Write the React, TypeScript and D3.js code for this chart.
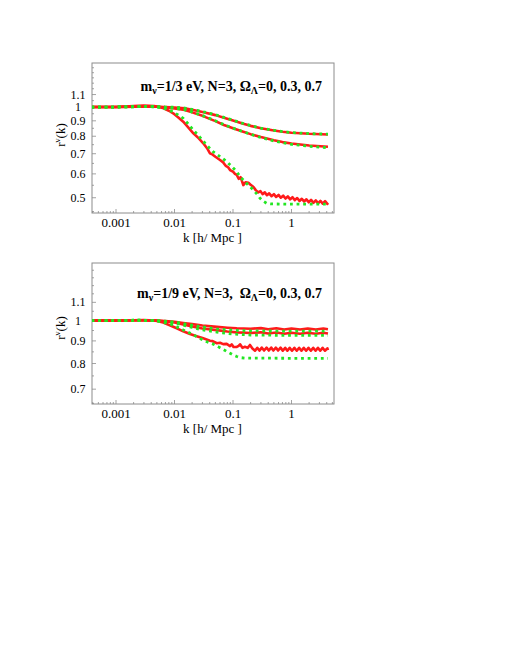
import React from "react";
import * as d3 from "d3";

type Pt = [number, number];

// ---------- Panel 1 (m_nu = 1/3 eV) ----------
const p1RedA: Pt[] = [[0.00038,1.0],[0.001,1.0],[0.002,1.003],[0.003,1.004],[0.005,1.002],[0.007,1.0],[0.01,0.997],[0.015,0.99],[0.02,0.98],[0.03,0.963],[0.05,0.94],[0.07,0.921],[0.1,0.902],[0.15,0.88],[0.2,0.866],[0.3,0.85],[0.5,0.836],[0.7,0.828],[1,0.822],[2,0.815],[4.2,0.811]];
const p1GreenA: Pt[] = [[0.00038,1.0],[0.001,1.0],[0.002,1.002],[0.003,1.003],[0.005,1.002],[0.007,1.0],[0.01,0.998],[0.015,0.992],[0.02,0.982],[0.03,0.966],[0.05,0.943],[0.07,0.924],[0.1,0.904],[0.15,0.882],[0.2,0.868],[0.3,0.851],[0.5,0.837],[0.7,0.829],[1,0.823],[2,0.816],[4.2,0.813]];
const p1RedB: Pt[] = [[0.00038,1.0],[0.001,1.0],[0.002,1.003],[0.003,1.004],[0.005,1.002],[0.007,0.997],[0.01,0.99],[0.015,0.978],[0.02,0.96],[0.03,0.935],[0.05,0.898],[0.07,0.872],[0.1,0.85],[0.15,0.828],[0.2,0.813],[0.3,0.795],[0.5,0.776],[0.7,0.765],[1,0.757],[2,0.745],[4.2,0.738]];
const p1GreenB: Pt[] = [[0.00038,1.0],[0.001,1.0],[0.002,1.002],[0.003,1.003],[0.005,1.002],[0.007,0.998],[0.01,0.991],[0.015,0.979],[0.02,0.962],[0.03,0.937],[0.05,0.9],[0.07,0.874],[0.1,0.851],[0.15,0.828],[0.2,0.812],[0.3,0.792],[0.5,0.772],[0.7,0.761],[1,0.752],[2,0.741],[4.2,0.733]];
const p1RedC: Pt[] = [[0.00038,1.0],[0.001,1.0],[0.002,1.008],[0.003,1.012],[0.0045,1.008],[0.0055,1.0],[0.0065,0.99],[0.008,0.972],[0.0095,0.953],[0.0115,0.925],[0.0141,0.894],[0.017,0.858],[0.021,0.818],[0.026,0.787],[0.031,0.758],[0.036,0.73],[0.0404,0.702],[0.045,0.695],[0.05,0.684],[0.06,0.667],[0.068,0.655],[0.075,0.638],[0.082,0.632],[0.089,0.618],[0.1,0.61],[0.108,0.6],[0.116,0.595],[0.125,0.578],[0.135,0.585],[0.15,0.551],[0.165,0.563],[0.183,0.561],[0.2,0.552],[0.222,0.544],[0.245,0.53],[0.27,0.521],[0.295,0.526],[0.32,0.514],[0.35,0.521],[0.38,0.51],[0.415,0.517],[0.455,0.506],[0.5,0.514],[0.545,0.503],[0.6,0.511],[0.655,0.5],[0.72,0.508],[0.79,0.497],[0.865,0.505],[0.95,0.494],[1.04,0.502],[1.14,0.491],[1.25,0.499],[1.37,0.488],[1.5,0.496],[1.64,0.486],[1.8,0.494],[1.97,0.483],[2.16,0.492],[2.37,0.481],[2.6,0.49],[2.85,0.479],[3.12,0.488],[3.42,0.478],[3.75,0.487],[4.1,0.477],[4.2,0.481]];
const p1GreenC: Pt[] = [[0.00038,1.0],[0.001,1.0],[0.002,1.003],[0.003,1.005],[0.0045,1.004],[0.0055,0.998],[0.0065,0.99],[0.008,0.978],[0.0095,0.962],[0.0115,0.942],[0.0141,0.917],[0.017,0.88],[0.021,0.839],[0.027,0.795],[0.0354,0.748],[0.045,0.712],[0.06,0.685],[0.078,0.659],[0.095,0.635],[0.116,0.61],[0.132,0.587],[0.15,0.573],[0.171,0.558],[0.195,0.545],[0.222,0.531],[0.255,0.515],[0.29,0.498],[0.33,0.487],[0.377,0.479],[0.45,0.477],[1,0.476],[4.2,0.476]];

// ---------- Panel 2 (m_nu = 1/9 eV) ----------
const p2RedA: Pt[] = [[0.00038,1.0],[0.001,1.0],[0.002,1.002],[0.003,1.002],[0.005,1.0],[0.007,0.998],[0.01,0.994],[0.0141,0.988],[0.02,0.982],[0.03,0.975],[0.053,0.968],[0.08,0.964],[0.116,0.961],[0.2,0.959],[0.3,0.962],[0.4,0.956],[0.55,0.961],[0.75,0.955],[1,0.96],[1.4,0.955],[1.9,0.96],[2.6,0.955],[3.5,0.96],[4.2,0.956]];
const p2GreenA: Pt[] = [[0.00038,1.0],[0.001,1.0],[0.002,1.002],[0.003,1.002],[0.005,1.0],[0.007,0.997],[0.01,0.993],[0.0141,0.985],[0.02,0.977],[0.03,0.968],[0.053,0.958],[0.1,0.951],[0.2,0.948],[1,0.947],[4.2,0.947]];
const p2RedB: Pt[] = [[0.00038,1.0],[0.001,1.0],[0.002,1.002],[0.003,1.002],[0.005,1.0],[0.007,0.996],[0.01,0.99],[0.0141,0.98],[0.02,0.97],[0.03,0.96],[0.053,0.952],[0.08,0.945],[0.116,0.941],[0.2,0.938],[0.3,0.941],[0.4,0.935],[0.55,0.94],[0.75,0.934],[1,0.939],[1.4,0.934],[1.9,0.939],[2.6,0.934],[3.5,0.939],[4.2,0.935]];
const p2GreenB: Pt[] = [[0.00038,1.0],[0.001,1.0],[0.002,1.002],[0.003,1.002],[0.005,1.0],[0.007,0.995],[0.01,0.988],[0.0141,0.977],[0.02,0.965],[0.03,0.953],[0.053,0.942],[0.1,0.933],[0.2,0.928],[1,0.926],[4.2,0.926]];
const p2RedC: Pt[] = [[0.00038,1.0],[0.001,1.0],[0.002,1.002],[0.003,1.003],[0.0045,1.001],[0.0055,0.996],[0.0064,0.99],[0.0085,0.975],[0.0109,0.961],[0.0141,0.946],[0.0184,0.933],[0.024,0.922],[0.031,0.912],[0.0404,0.901],[0.045,0.899],[0.053,0.889],[0.06,0.891],[0.068,0.885],[0.078,0.886],[0.089,0.876],[0.095,0.884],[0.102,0.872],[0.116,0.872],[0.125,0.877],[0.132,0.884],[0.145,0.868],[0.16,0.873],[0.178,0.868],[0.195,0.881],[0.215,0.865],[0.238,0.855],[0.26,0.868],[0.285,0.856],[0.31,0.869],[0.34,0.856],[0.375,0.869],[0.41,0.856],[0.45,0.869],[0.49,0.856],[0.54,0.869],[0.59,0.856],[0.65,0.869],[0.71,0.855],[0.78,0.868],[0.85,0.855],[0.93,0.868],[1.02,0.855],[1.12,0.868],[1.23,0.855],[1.35,0.868],[1.48,0.855],[1.62,0.868],[1.78,0.855],[1.95,0.868],[2.14,0.855],[2.35,0.868],[2.58,0.855],[2.83,0.868],[3.1,0.855],[3.4,0.868],[3.73,0.855],[4.1,0.866],[4.2,0.858]];
const p2GreenC: Pt[] = [[0.00038,1.0],[0.001,1.0],[0.002,1.001],[0.003,1.002],[0.0045,1.0],[0.006,0.993],[0.0084,0.983],[0.0109,0.968],[0.0141,0.953],[0.02,0.932],[0.027,0.912],[0.035,0.897],[0.045,0.886],[0.053,0.876],[0.065,0.864],[0.078,0.852],[0.089,0.844],[0.1,0.837],[0.116,0.83],[0.132,0.825],[0.16,0.823],[1,0.822],[4.2,0.822]];

const xTicks = [0.001, 0.01, 0.1, 1];
const xTickLabels = ["0.001", "0.01", "0.1", "1"];
const p1YTicks = [0.5, 0.6, 0.7, 0.8, 0.9, 1, 1.1];
const p1YLabels = ["0.5", "0.6", "0.7", "0.8", "0.9", "1", "1.1"];
const p2YTicks = [0.7, 0.8, 0.9, 1, 1.1];
const p2YLabels = ["0.7", "0.8", "0.9", "1", "1.1"];

const RED = "#ff1a1a";
const GREEN = "#22e622";
const FRAME = "#8c8c8c";
const FONT = "'Liberation Serif', 'DejaVu Serif', serif";

interface PanelProps {
  top: number;
  bottom: number;
  yDomain: [number, number];
  yTicks: number[];
  yLabels: string[];
  reds: Pt[][];
  greens: Pt[][];
  title: React.ReactNode;
  titleY: number;
  yLabelY: number;
  xLabelDy: number;
  xTitleDy: number;
}

function Panel(p: PanelProps) {
  const left = 92, right = 334;
  const x = d3.scaleLog().domain([Math.pow(10, (left - 291.5) / 58.5), Math.pow(10, (right - 291.5) / 58.5)]).range([left, right]);
  const y = d3.scaleLog().domain(p.yDomain).range([p.bottom, p.top]);
  const line = d3.line<Pt>().x(d => x(d[0])).y(d => y(d[1]));
  const [x0, x1] = x.domain();
  const minor: number[] = [];
  for (let e = -4; e <= 1; e++) {
    for (let m = 1; m <= 9; m++) {
      const v = m * Math.pow(10, e);
      if (v > x0 && v < x1) minor.push(v);
    }
  }
  const yMinor: number[] = [];
  for (let v = 0.45; v <= 1.4; v += 0.05) {
    const r = Math.round(v * 100) / 100;
    if (r > p.yDomain[0] && r < p.yDomain[1]) yMinor.push(r);
  }
  return (
    <g>
      <defs>
        <clipPath id={`clip${p.top}`}>
          <rect x={left} y={p.top} width={right - left} height={p.bottom - p.top} />
        </clipPath>
      </defs>
      <rect x={left} y={p.top} width={right - left} height={p.bottom - p.top} fill="white" stroke={FRAME} strokeWidth={1} />
      {minor.map((v, i) => {
        const major = xTicks.some(t => Math.abs(t - v) < 1e-9);
        return <line key={"xm" + i} x1={x(v)} x2={x(v)} y1={p.bottom} y2={p.bottom - (major ? 4 : 2)} stroke={FRAME} strokeWidth={0.8} />;
      })}
      {yMinor.map((v, i) => {
        const major = p.yTicks.some(t => Math.abs(t - v) < 1e-9);
        return <line key={"ym" + i} x1={left} x2={left + (major ? 4 : 2)} y1={y(v)} y2={y(v)} stroke={FRAME} strokeWidth={0.8} />;
      })}
      <g clipPath={`url(#clip${p.top})`}>
        {p.reds.map((d, i) => (
          <path key={"r" + i} d={line(d) || ""} fill="none" stroke={RED} strokeWidth={2.6} strokeLinejoin="round" />
        ))}
        {p.greens.map((d, i) => (
          <path key={"g" + i} d={line(d) || ""} fill="none" stroke={GREEN} strokeWidth={2.8} strokeDasharray="2.8 3.8" />
        ))}
      </g>
      {xTicks.map((t, i) => (
        <text key={"xl" + i} x={x(t)} y={p.bottom + p.xLabelDy} textAnchor="middle" fontFamily={FONT} fontSize={13}>{xTickLabels[i]}</text>
      ))}
      {p.yTicks.map((t, i) => (
        <text key={"yl" + i} x={78} y={y(t) + 4} textAnchor="middle" fontFamily={FONT} fontSize={12}>{p.yLabels[i]}</text>
      ))}
      <text x={212.5} y={p.bottom + p.xTitleDy} textAnchor="middle" fontFamily={FONT} fontSize={13}>k [h/ Mpc ]</text>
      <text transform={`translate(65,${p.yLabelY}) rotate(-90)`} textAnchor="middle" fontFamily={FONT} fontSize={13}>
        r<tspan dy={-5} fontSize={9}>ν</tspan><tspan dy={5}>(k)</tspan>
      </text>
      <text x={322} y={p.titleY} textAnchor="end" fontFamily={FONT} fontSize={14} fontWeight="bold">{p.title}</text>
    </g>
  );
}

export default function App() {
  return (
    <svg width={510} height={660} style={{ position: "absolute", left: 0, top: 0, background: "white" }}>
      <rect x={0} y={0} width={510} height={660} fill="white" />
      <Panel
        top={63} bottom={213} yDomain={[0.445, 1.40]}
        yTicks={p1YTicks} yLabels={p1YLabels}
        reds={[p1RedA, p1RedB, p1RedC]} greens={[p1GreenA, p1GreenB, p1GreenC]}
        titleY={91} yLabelY={135} xLabelDy={13.5} xTitleDy={28.5}
        title={<>m<tspan dy={3} fontSize={10}>ν</tspan><tspan dy={-3}>=1/3 eV, N=3, Ω</tspan><tspan dy={3} fontSize={10}>Λ</tspan><tspan dy={-3}>=0, 0.3, 0.7</tspan></>}
      />
      <Panel
        top={263} bottom={404} yDomain={[0.648, 1.35]}
        yTicks={p2YTicks} yLabels={p2YLabels}
        reds={[p2RedA, p2RedB, p2RedC]} greens={[p2GreenA, p2GreenB, p2GreenC]}
        titleY={298} yLabelY={328} xLabelDy={14} xTitleDy={29}
        title={<>m<tspan dy={3} fontSize={10}>ν</tspan><tspan dy={-3}>{"=1/9 eV, N=3,\u00a0 Ω"}</tspan><tspan dy={3} fontSize={10}>Λ</tspan><tspan dy={-3}>=0, 0.3, 0.7</tspan></>}
      />
    </svg>
  );
}
